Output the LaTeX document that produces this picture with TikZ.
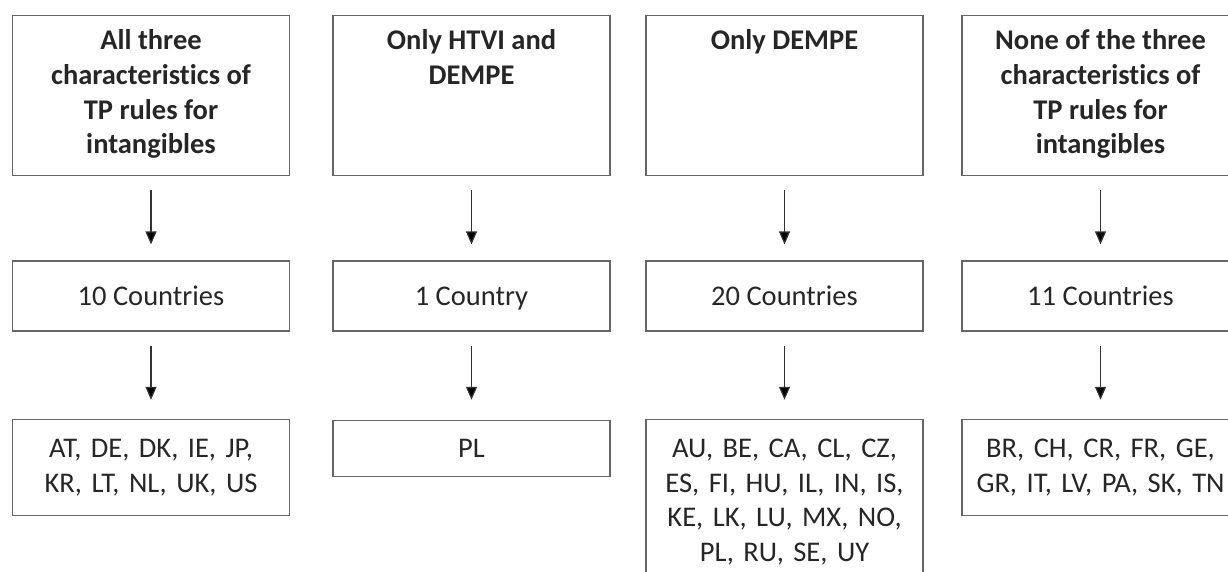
\documentclass[tikz,border=0pt]{standalone}
\usepackage{fontspec}
\setmainfont{Carlito}[Ligatures=NoCommon]
\usepackage{tikz}
\usetikzlibrary{positioning, arrows.meta}

\begin{document}
\begin{tikzpicture}[x=1pt, y=-1pt, node distance=84pt,
        every node/.style={text=black!85, font=\fontsize{28.5}{34.7}\selectfont},
        box/.style={draw=black!60, line width=1.4pt, minimum width=277pt},
        head/.style={box, anchor=north, inner sep=0pt, text height=34pt, text depth=126pt,
            font=\fontsize{28.5}{34.7}\selectfont\bfseries},
        count/.style={box, minimum height=70pt, text height=18.5pt, text depth=0pt},
        list/.style={box, minimum height=96pt, text width=262pt, align=center},
        >={Triangle[length=13pt, width=11pt]}]
        \useasboundingbox (0,0) rectangle (1228,572);
        \clip (0,0) rectangle (1228,572);

        \node[head] (t1) at (151,15) {\parbox[t]{262pt}{\centering All three\\characteristics of\\TP rules for\\intangibles}};
        \node[head] (t2) at (471.5,15) {\parbox[t]{262pt}{\centering Only HTVI and\\DEMPE}};
        \node[head] (t3) at (784.5,15) {\parbox[t]{262pt}{\centering Only DEMPE}};
        \node[head] (t4) at (1100.5,15) {\parbox[t]{262pt}{\centering None of the three\\characteristics of\\TP rules for\\intangibles}};

        \node[count] (c1) [below=of t1] {10 Countries};
        \node[count] (c2) [below=of t2] {1 Country};
        \node[count] (c3) [below=of t3] {20 Countries};
        \node[count] (c4) [below=of t4] {11 Countries};

        \node[list] (l1) [below=87pt of c1] {AT, DE, DK, IE, JP,\\KR, LT, NL, UK, US};
        \node[list, minimum height=56pt] (l2) [below=88pt of c2] {PL};
        \node[list, minimum height=165pt] (l3) [below=87pt of c3] {AU, BE, CA, CL, CZ,\\ES, FI, HU, IL, IN, IS,\\KE, LK, LU, MX, NO,\\PL, RU, SE, UY};
        \node[list] (l4) [below=87pt of c4] {BR, CH, CR, FR, GE,\\GR, IT, LV, PA, SK, TN};

        \path[->, draw=black!80, line width=1.2pt, shorten <=14pt]
        (t1) edge[shorten >=16pt] (c1)
        (t2) edge[shorten >=16pt] (c2)
        (t3) edge[shorten >=16pt] (c3)
        (t4) edge[shorten >=16pt] (c4)
        (c1) edge[shorten >=19pt] (l1)
        (c2) edge[shorten >=20pt] (l2)
        (c3) edge[shorten >=19pt] (l3)
        (c4) edge[shorten >=19pt] (l4);

    \end{tikzpicture}
\end{document}
